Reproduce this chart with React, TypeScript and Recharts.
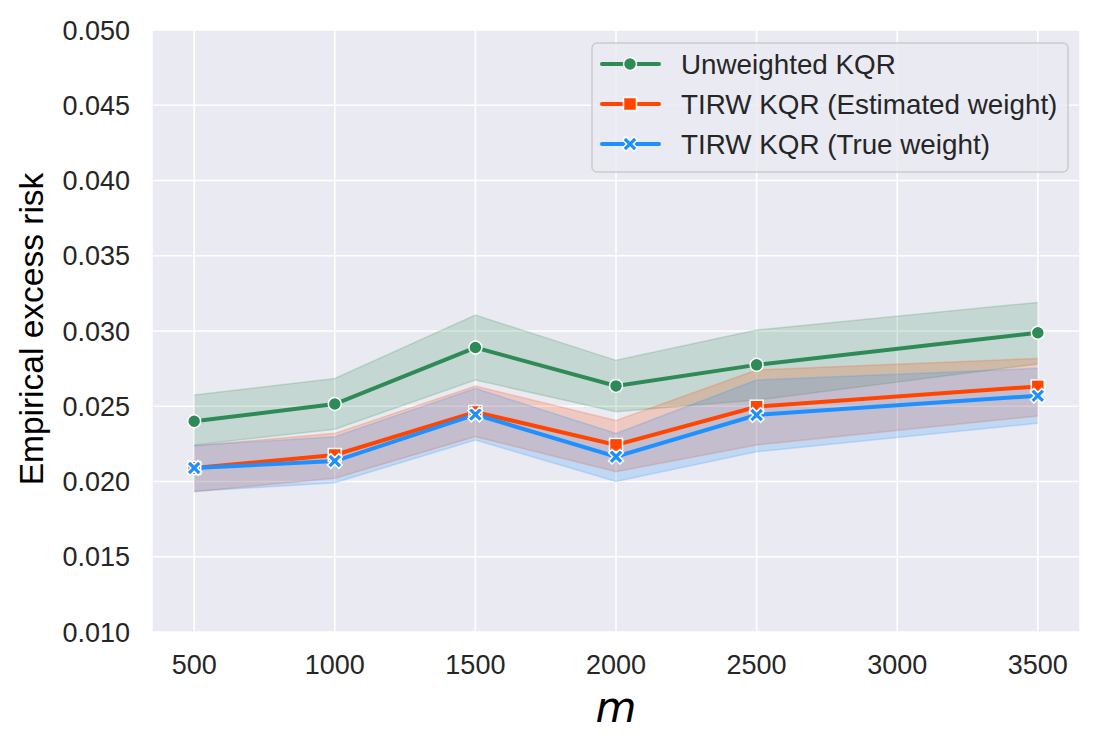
import { Area, CartesianGrid, ComposedChart, Line, XAxis, YAxis } from "recharts";

const mValues = [500, 1000, 1500, 2000, 2500, 3500];

const unweighted = [0.0240, 0.02515, 0.0289, 0.02635, 0.02775, 0.02988];
const unweightedLo = [0.02243, 0.02347, 0.02674, 0.02464, 0.02541, 0.02781];
const unweightedHi = [0.02575, 0.02685, 0.03106, 0.02805, 0.03007, 0.0319];

const estimated = [0.0209, 0.02176, 0.02462, 0.02243, 0.02497, 0.02632];
const estimatedLo = [0.01932, 0.02021, 0.02298, 0.02065, 0.02243, 0.02435];
const estimatedHi = [0.02238, 0.0232, 0.02635, 0.02405, 0.02741, 0.02818];

const trueWeight = [0.0209, 0.02136, 0.02445, 0.02165, 0.02442, 0.0257];
const trueLo = [0.01935, 0.01992, 0.02276, 0.02, 0.02198, 0.02387];
const trueHi = [0.0224, 0.02298, 0.02619, 0.0232, 0.02674, 0.02752];

const xTicks = [500, 1000, 1500, 2000, 2500, 3000, 3500];
const yTicks = [0.01, 0.015, 0.02, 0.025, 0.03, 0.035, 0.04, 0.045, 0.05];

const seriesNames = ["Unweighted KQR", "TIRW KQR (Estimated weight)", "TIRW KQR (True weight)"];

const GREEN = "#2e8b57";
const ORANGE = "#ff4500";
const BLUE = "#1e90ff";
const TEXT = "#262626";
const FONT = "'Liberation Sans', Arial, sans-serif";

const data = mValues.map((m, i) => ({
    m,
    unweighted: unweighted[i],
    unweightedBand: [unweightedLo[i], unweightedHi[i]],
    estimated: estimated[i],
    estimatedBand: [estimatedLo[i], estimatedHi[i]],
    trueWeight: trueWeight[i],
    trueBand: [trueLo[i], trueHi[i]],
}));

// filled "X" marker like matplotlib's 'X'
function xPath(cx: number, cy: number, r: number, t: number) {
    const pts = [
        [r, t], [t, t], [t, r], [-t, r], [-t, t], [-r, t],
        [-r, -t], [-t, -t], [-t, -r], [t, -r], [t, -t], [r, -t],
    ];
    const c = Math.SQRT1_2;
    return pts
        .map(([x, y], i) => `${i ? "L" : "M"}${cx + (x - y) * c},${cy + (x + y) * c}`)
        .join(" ") + " Z";
}

function Marker({ kind, cx, cy }: { kind: string; cx: number; cy: number }) {
    if (kind === "circle") {
        return <circle cx={cx} cy={cy} r={6.5} fill={GREEN} stroke="#fff" strokeWidth={1.5} />;
    }
    if (kind === "square") {
        return <rect x={cx - 6.5} y={cy - 6.5} width={13} height={13} fill={ORANGE} stroke="#fff" strokeWidth={1.5} />;
    }
    return <path d={xPath(cx, cy, 8, 2.4)} fill={BLUE} stroke="#fff" strokeWidth={1.5} />;
}

const dotFor = (kind: string) => (props: any) => (
    <Marker key={`${kind}-${props.index}`} kind={kind} cx={props.cx} cy={props.cy} />
);

function LegendBox() {
    const rows = [
        { name: seriesNames[0], color: GREEN, kind: "circle" },
        { name: seriesNames[1], color: ORANGE, kind: "square" },
        { name: seriesNames[2], color: BLUE, kind: "x" },
    ];
    return (
        <svg width={480} height={134} style={{ position: "absolute", left: 590, top: 41 }}>
            <rect x={2} y={2} width={476} height={129} rx={5} fill="#eaeaf2" fillOpacity={0.8} stroke="#cccccc" strokeWidth={1.5} />
            {rows.map((r, i) => {
                const cy = 23 + i * 40;
                return (
                    <g key={r.name}>
                        <line x1={12} x2={69} y1={cy} y2={cy} stroke={r.color} strokeWidth={4} strokeLinecap="round" />
                        <Marker kind={r.kind} cx={40} cy={cy} />
                        <text x={91} y={cy + 10} fontSize={27.8} fill={TEXT} fontFamily={FONT}>{r.name}</text>
                    </g>
                );
            })}
        </svg>
    );
}

export default function App() {
    return (
        <div style={{ position: "absolute", left: 0, top: 0, width: 1101, height: 748, background: "#fff" }}>
            <ComposedChart
                width={1101}
                height={748}
                data={data}
                margin={{ top: 30, right: 21, bottom: 0, left: 0 }}
            >
                <CartesianGrid fill="#eaeaf2" stroke="#ffffff" strokeWidth={1.6} fillOpacity={1} />
                <XAxis
                    dataKey="m"
                    type="number"
                    domain={[350, 3650]}
                    ticks={xTicks}
                    axisLine={false}
                    tickLine={false}
                    tickSize={0}
                    tickMargin={23}
                    height={116}
                    tick={{ fontSize: 27, fill: TEXT, fontFamily: FONT }}
                    label={{
                        content: () => (
                            <text x={616} y={722} textAnchor="middle" fontSize={42} fontStyle="italic" fontFamily="'DejaVu Sans', sans-serif" fill="#000">m</text>
                        ),
                    }}
                />
                <YAxis
                    type="number"
                    domain={[0.01, 0.05]}
                    ticks={yTicks}
                    allowDataOverflow
                    axisLine={false}
                    tickLine={false}
                    tickSize={0}
                    tickMargin={22}
                    width={152}
                    tickFormatter={(v: number) => v.toFixed(3)}
                    tick={{ fontSize: 27, fill: TEXT, fontFamily: FONT }}
                    label={{
                        content: () => (
                            <text x={43} y={329} transform="rotate(-90 43 329)" textAnchor="middle" fontSize={33.5} fontFamily={FONT} fill="#000">Empirical excess risk</text>
                        ),
                    }}
                />
                <Area dataKey="unweightedBand" type="linear" fill={GREEN} fillOpacity={0.2} stroke={GREEN} strokeOpacity={0.2} strokeWidth={1.5} isAnimationActive={false} activeDot={false} />
                <Area dataKey="estimatedBand" type="linear" fill={ORANGE} fillOpacity={0.2} stroke={ORANGE} strokeOpacity={0.2} strokeWidth={1.5} isAnimationActive={false} activeDot={false} />
                <Area dataKey="trueBand" type="linear" fill={BLUE} fillOpacity={0.2} stroke={BLUE} strokeOpacity={0.2} strokeWidth={1.5} isAnimationActive={false} activeDot={false} />
                <Line dataKey="unweighted" name={seriesNames[0]} type="linear" stroke={GREEN} strokeWidth={4} dot={dotFor("circle")} activeDot={false} isAnimationActive={false} />
                <Line dataKey="estimated" name={seriesNames[1]} type="linear" stroke={ORANGE} strokeWidth={4} dot={dotFor("square")} activeDot={false} isAnimationActive={false} />
                <Line dataKey="trueWeight" name={seriesNames[2]} type="linear" stroke={BLUE} strokeWidth={4} dot={dotFor("x")} activeDot={false} isAnimationActive={false} />
            </ComposedChart>
            <LegendBox />
        </div>
    );
}
